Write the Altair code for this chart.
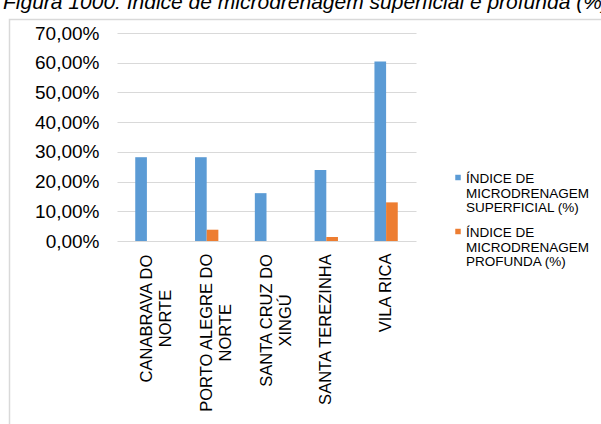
import altair as alt
import pandas as pd

# --- data -------------------------------------------------------------
municipios = [
    "CANABRAVA DO NORTE",
    "PORTO ALEGRE DO NORTE",
    "SANTA CRUZ DO XINGÚ",
    "SANTA TEREZINHA",
    "VILA RICA",
]
rotulos = [
    ["CANABRAVA DO", "NORTE"],
    ["PORTO ALEGRE DO", "NORTE"],
    ["SANTA CRUZ DO", "XINGÚ"],
    ["SANTA TEREZINHA"],
    ["VILA RICA"],
]
series = [
    "ÍNDICE DE MICRODRENAGEM SUPERFICIAL (%)",
    "ÍNDICE DE MICRODRENAGEM PROFUNDA (%)",
]
legenda_linhas = [
    ["ÍNDICE DE", "MICRODRENAGEM", "SUPERFICIAL (%)"],
    ["ÍNDICE DE", "MICRODRENAGEM", "PROFUNDA (%)"],
]
superficial = [0.282, 0.282, 0.161, 0.239, 0.604]
profunda = [0.0, 0.038, 0.0, 0.0135, 0.130]
y_ticks = [0.0, 0.1, 0.2, 0.3, 0.4, 0.5, 0.6, 0.7]
titulo = "Figura 1000: Índice de microdrenagem superficial e profunda (%)"
cores = ["#5b9bd5", "#ed7d31"]

# --- layout -----------------------------------------------------------
FONT = "Liberation Sans"
LEFT, TOP = 117, 33
W, H = 299, 208
TOTAL_W, TOTAL_H = 601, 424
LBL_SIZE = 16.5

# Arial advance widths (em) for the glyphs used in the category labels
_adv = {
    "A": .667, "B": .667, "C": .722, "D": .722, "E": .667, "G": .778,
    "H": .722, "I": .278, "L": .556, "N": .722, "O": .778, "P": .667,
    "R": .722, "S": .667, "T": .611, "U": .722, "Ú": .722, "V": .667,
    "X": .667, "Z": .611, " ": .278,
}


def largura(s):
    return sum(_adv.get(c, .667) for c in s) * LBL_SIZE


df = pd.DataFrame(
    [
        {"municipio": m, "serie": series[0], "valor": v}
        for m, v in zip(municipios, superficial)
    ]
    + [
        {"municipio": m, "serie": series[1], "valor": v}
        for m, v in zip(municipios, profunda)
    ]
)

x_scale = alt.Scale(domain=municipios, paddingInner=0.61, paddingOuter=0.305)
color_scale = alt.Scale(domain=series, range=cores)

barras = alt.Chart(df).mark_bar().encode(
    x=alt.X("municipio:N", sort=municipios, scale=x_scale, axis=None),
    xOffset=alt.XOffset(
        "serie:N", sort=series, scale=alt.Scale(paddingInner=0, paddingOuter=0)
    ),
    y=alt.Y(
        "valor:Q",
        scale=alt.Scale(domain=[0, 0.7], nice=False, zero=True),
        axis=alt.Axis(
            values=y_ticks,
            labelExpr="replace(format(datum.value, '.2%'), '.', ',')",
            grid=True,
            gridColor="#d9d9d9",
            gridWidth=1,
            domain=False,
            ticks=False,
            labelFont=FONT,
            labelFontSize=19,
            labelColor="#000000",
            labelPadding=18,
            title=None,
        ),
    ),
    color=alt.Color("serie:N", sort=series, scale=color_scale, legend=None),
)

# category labels, rotated, lines centred within each label block
rot_df = pd.DataFrame(
    {
        "municipio": municipios,
        "texto": ["\n".join(l) for l in rotulos],
        "meia": [max(largura(s) for s in l) / 2 for l in rotulos],
    }
)
rotulos_x = (
    alt.Chart(rot_df)
    .transform_calculate(cy=f"{H + 12} + datum.meia")
    .mark_text(
        angle=270,
        align="center",
        baseline="middle",
        lineBreak="\n",
        lineHeight=19,
        font=FONT,
        fontSize=LBL_SIZE,
        color="#000000",
    )
    .encode(
        x=alt.X("municipio:N", sort=municipios, scale=x_scale, axis=None),
        y=alt.Y("cy:Q", scale=None, axis=None),
        text="texto:N",
    )
)

# legend drawn beside the plot
leg_df = pd.DataFrame(
    {"serie": series, "texto": ["\n".join(l) for l in legenda_linhas]}
)
legenda = []
for i, (sq_y, txt_y) in enumerate([(144.5, 150), (198.5, 204)]):
    sub = alt.Chart(leg_df).transform_filter(
        alt.datum.serie == series[i]
    )
    legenda.append(
        sub.mark_square(size=30, opacity=1).encode(
            x=alt.value(341),
            y=alt.value(sq_y),
            color=alt.Color("serie:N", sort=series, scale=color_scale, legend=None),
        )
    )
    legenda.append(
        sub.mark_text(
            align="left",
            baseline="alphabetic",
            lineBreak="\n",
            lineHeight=14.5,
            font=FONT,
            fontSize=13.5,
            color="#000000",
        ).encode(x=alt.value(349), y=alt.value(txt_y), text="texto:N")
    )

# caption line above the chart frame
titulo_df = pd.DataFrame({"t": [titulo]})
titulo_mark = alt.Chart(titulo_df).mark_text(
    align="left",
    baseline="alphabetic",
    font=FONT,
    fontSize=21,
    fontStyle="italic",
    color="#000000",
).encode(x=alt.value(3 - LEFT), y=alt.value(9 - TOP), text="t:N")

# light frame around the chart
moldura = alt.Chart(titulo_df).mark_rect(
    fill="transparent", stroke="#d9d9d9", strokeWidth=1.5
).encode(
    x=alt.value(9.5 - LEFT),
    x2=alt.value(TOTAL_W + 20 - LEFT),
    y=alt.value(19.5 - TOP),
    y2=alt.value(TOTAL_H + 20 - TOP),
)

chart = (
    alt.layer(moldura, titulo_mark, barras, rotulos_x, *legenda)
    .properties(
        width=W,
        height=H,
        autosize=alt.AutoSizeParams(type="none"),
        padding={
            "left": LEFT,
            "top": TOP,
            "right": TOTAL_W - LEFT - W,
            "bottom": TOTAL_H - TOP - H,
        },
        background="#ffffff",
    )
    .configure_view(stroke=None)
)

chart.save("out.html", embed_options={"renderer": "svg", "actions": False})
